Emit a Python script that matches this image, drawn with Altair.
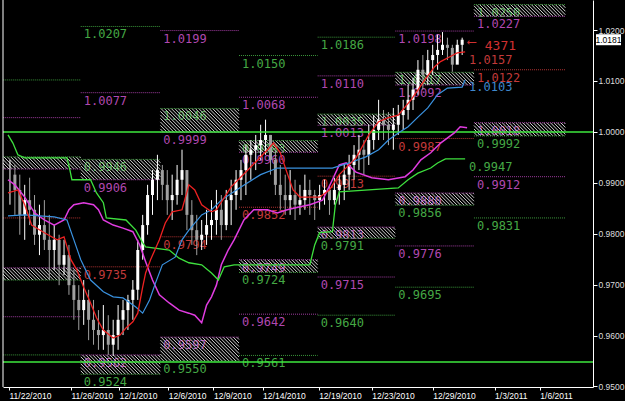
import altair as alt
import pandas as pd

# ---------------- data ----------------
# price bars (bar index 0..92)
bar_high = [0.9945,0.9935,0.9916,0.9896,0.9910,0.9876,0.9857,0.9866,0.9837,0.9817,
            0.9798,0.9788,0.9778,0.9729,0.9699,0.9709,0.9690,0.9670,0.9650,0.9660,
            0.9640,0.9631,0.9660,0.9670,0.9680,0.9709,0.9788,0.9837,0.9896,0.9925,
            0.9955,0.9935,0.9925,0.9916,0.9935,0.9965,0.9925,0.9866,0.9837,0.9827,
            0.9847,0.9866,0.9886,0.9876,0.9886,0.9906,0.9925,0.9945,0.9974,0.9984,
            0.9994,1.0014,1.0024,0.9994,0.9965,0.9935,0.9916,0.9925,0.9906,0.9896,
            0.9916,0.9906,0.9886,0.9896,0.9906,0.9896,0.9910,0.9916,0.9935,0.9955,
            0.9974,0.9994,0.9984,1.0014,1.0033,1.0063,1.0043,1.0039,1.0047,1.0053,
            1.0063,1.0092,1.0106,1.0141,1.0151,1.0161,1.0171,1.0191,1.0196,1.0185,
            1.0171,1.0181,1.0185]
bar_low = [0.9857,0.9837,0.9798,0.9788,0.9817,0.9778,0.9758,0.9768,0.9709,0.9729,
           0.9699,0.9719,0.9680,0.9631,0.9611,0.9621,0.9591,0.9582,0.9572,0.9572,
           0.9562,0.9560,0.9572,0.9601,0.9611,0.9631,0.9670,0.9749,0.9798,0.9837,
           0.9866,0.9866,0.9837,0.9827,0.9857,0.9876,0.9807,0.9778,0.9758,0.9768,
           0.9778,0.9788,0.9798,0.9788,0.9807,0.9817,0.9847,0.9866,0.9876,0.9906,
           0.9925,0.9945,0.9955,0.9916,0.9876,0.9847,0.9837,0.9837,0.9827,0.9837,
           0.9847,0.9837,0.9827,0.9847,0.9857,0.9837,0.9857,0.9857,0.9866,0.9886,
           0.9906,0.9925,0.9916,0.9935,0.9965,0.9984,0.9984,0.9974,0.9965,0.9994,
           1.0004,1.0024,1.0043,1.0073,1.0083,1.0092,1.0112,1.0122,1.0151,1.0141,
           1.0118,1.0141,1.0151]
bar_close = [0.9916,0.9886,0.9837,0.9866,0.9847,0.9798,0.9817,0.9788,0.9768,0.9788,
             0.9739,0.9758,0.9699,0.9670,0.9650,0.9670,0.9631,0.9611,0.9601,0.9611,
             0.9582,0.9601,0.9631,0.9650,0.9670,0.9690,0.9768,0.9817,0.9876,0.9906,
             0.9925,0.9896,0.9866,0.9876,0.9906,0.9925,0.9837,0.9807,0.9788,0.9798,
             0.9817,0.9827,0.9847,0.9817,0.9866,0.9876,0.9906,0.9925,0.9955,0.9965,
             0.9974,0.9984,0.9994,0.9945,0.9896,0.9876,0.9866,0.9876,0.9857,0.9866,
             0.9886,0.9876,0.9866,0.9876,0.9886,0.9866,0.9886,0.9896,0.9916,0.9935,
             0.9955,0.9965,0.9955,0.9984,1.0004,1.0024,1.0014,1.0004,1.0014,1.0033,
             1.0043,1.0063,1.0083,1.0122,1.0112,1.0141,1.0151,1.0161,1.0171,1.0165,
             1.0132,1.0171,1.0181]

red_x = [-0.4,1.6,3,4.4,7,9.6,11,12.4,13.6,15,16.4,17.6,19,21,22.4,23.6,25,26,27,27.6,
         28.6,30.4,31.6,33,35,36.4,37.6,39,41,42,45,49,52.4,53.6,55,56.4,57.6,59,63,65,
         67,70.4,73,75,77,79,81.6,84.4,86.4,87.6,89.4,91,92.6]
red_y = [0.9880,0.9886,0.9857,0.9817,0.9802,0.9788,0.9794,0.9749,0.9729,0.9695,
         0.9664,0.9635,0.9611,0.9595,0.9601,0.9615,0.9627,0.9644,0.9695,0.9723,
         0.9749,0.9788,0.9821,0.9843,0.9847,0.9896,0.9886,0.9857,0.9843,0.9847,
         0.9892,0.9931,0.9965,0.9978,0.9959,0.9919,0.9886,0.9872,0.9872,0.9886,
         0.9916,0.9949,0.9994,1.0020,1.0028,1.0033,1.0063,1.0102,1.0128,1.0138,
         1.0147,1.0155,1.0157]

blue_x = [-0.4,3,9,11.6,13,14.4,16.4,19,21,23,25.6,27,28.4,29.6,31,33.6,35,36.4,39,41,
          43,47,51,54.4,65.6,69,72.4,75,77,79,81,83,85,87,89,92,92.6]
blue_y = [0.9835,0.9837,0.9833,0.9827,0.9788,0.9749,0.9709,0.9686,0.9676,0.9674,
          0.9656,0.9644,0.9670,0.9703,0.9739,0.9754,0.9788,0.9807,0.9837,0.9847,
          0.9866,0.9892,0.9916,0.9929,0.9929,0.9939,0.9951,0.9965,0.9984,0.9998,
          1.0010,1.0029,1.0047,1.0073,1.0086,1.0088,1.0102]

mag_x = [-0.4,1,3,5,7,9,11,12,13,15,17,18,19,21,23,25,26.4,27.6,29,30.4,
         32.4,34.4,36.4,37.6,39,40,41,42,43,44.4,45.6,47.6,49.6,52.4,54.4,56.4,59,61,63.6,65.6,
         67,68.4,70.4,73.6,77,80.4,82,83.6,85.6,87.6,90.4,91.6,93]
mag_y = [0.9906,0.9896,0.9872,0.9841,0.9827,0.9817,0.9827,0.9847,0.9857,0.9861,
         0.9857,0.9847,0.9827,0.9817,0.9811,0.9804,0.9778,0.9745,0.9709,0.9680,
         0.9664,0.9650,0.9644,0.9640,0.9625,0.9660,0.9676,0.9699,0.9739,0.9768,
         0.9788,0.9827,0.9847,0.9847,0.9841,0.9847,0.9853,0.9857,0.9866,0.9906,
         0.9935,0.9939,0.9921,0.9910,0.9906,0.9912,0.9925,0.9945,0.9959,0.9978,
         0.9998,1.0010,1.0008]

grn_x = [-0.4,0.6,1.6,3,11.6,12.2,12.6,16.4,17.6,19,19.6,23.6,25.6,27,27.6,32.4,34.4,36.4,39,41,
         42.4,43.6,45.6,61,62,63,65.6,66.2,67,79,81,83,85.6,87,88.6,92.6]
grn_y = [0.9994,0.9978,0.9955,0.9949,0.9949,0.9925,0.9906,0.9906,0.9880,0.9861,
         0.9831,0.9827,0.9807,0.9782,0.9774,0.9768,0.9752,0.9743,0.9739,0.9723,
         0.9709,0.9735,0.9739,0.9739,0.9778,0.9802,0.9804,0.9857,0.9882,0.9890,
         0.9906,0.9919,0.9929,0.9939,0.9947,0.9947]

date_ticks = [-0.2, 12.4, 22.2, 32.2, 41.4, 51.4, 62.8, 73.6, 86.0, 98.6, 107.8]
date_labels = ['11/22/2010', '11/26/2010', '12/1/2010', '12/6/2010', '12/9/2010',
               '12/14/2010', '12/19/2010', '12/23/2010', '12/29/2010', '1/3/2011', '1/6/2011']
price_ticks = [0.95, 0.96, 0.97, 0.98, 0.99, 1.00, 1.01, 1.02]

# weekly level columns
col_start = [-3.0, 14.4, 30.6, 46.6, 62.6, 78.4, 94.4]
col_end = [14.4, 30.6, 46.6, 62.6, 78.4, 94.4, 113.0]

level_col = [0,0,0,0,0,0,0,0,0,
             1,1,1,1,1,1,1,
             2,2,2,2,2,2,
             3,3,3,3,3,3,3,3,3,
             4,4,4,4,4,4,4,4,4,
             5,5,5,5,5,5,5,5,
             6,6,6,6,6,6,6]
level_val = [1.0102,1.0028,0.9951,0.9927,0.9831,0.9733,0.9709,0.9637,0.9562,
             1.0207,1.0077,0.9946,0.9906,0.9735,0.9562,0.9524,
             1.0199,1.0046,0.9999,0.9794,0.9597,0.9550,
             1.0150,1.0068,0.9983,0.9960,0.9852,0.9749,0.9724,0.9642,0.9561,
             1.0186,1.0110,1.0035,1.0013,0.9913,0.9813,0.9791,0.9715,0.9640,
             1.0198,1.0117,1.0092,0.9987,0.9880,0.9856,0.9776,0.9695,
             1.0250,1.0227,1.0122,1.0018,0.9992,0.9912,0.9831]
level_kind = ['g','m','g','m','r','m','g','m','g',
              'g','m','g','m','r','m','g',
              'm','g','m','r','m','g',
              'g','m','g','m','r','m','g','m','g',
              'g','m','g','m','r','m','g','m','g',
              'm','g','m','r','m','g','m','g',
              'g','m','r','m','g','m','g']

zone_col = [0, 0, 1, 1, 2, 2, 3, 3, 4, 4, 5, 5, 6, 6]
zone_top = [0.9951,0.9733,0.9946,0.9562,1.0046,0.9597,0.9983,0.9749,1.0035,0.9813,1.0117,0.9880,1.0250,1.0018]
zone_bot = [0.9927,0.9709,0.9906,0.9524,0.9999,0.9550,0.9960,0.9724,1.0013,0.9791,1.0092,0.9856,1.0227,0.9992]

solid_levels = [1.0000, 0.9548]

end_x = [93.4, 93.4, 93.4]
end_val = [1.0157, 1.0103, 0.9947]
end_kind = ['r', 'b', 'g']

ann_x = [93.2, 96.6]
ann_y = [1.0177, 1.0169]
ann_text = ['\u27f5', '4371']

# ---------------- chart ----------------
W, H = 590, 387
XD = [-0.4, 117.6]
YD = [0.9499, 1.0259]
PX_X = W / (XD[1] - XD[0])
PX_Y = H / (YD[1] - YD[0])

XS = alt.Scale(domain=XD, nice=False, zero=False)
YS = alt.Scale(domain=YD, nice=False, zero=False)

lab_expr = ("[" + ",".join("'%s'" % l for l in date_labels) + "][indexof(["
            + ",".join(str(t) for t in date_ticks) + "], datum.value)]")
x_axis = alt.Axis(values=date_ticks, labelExpr=lab_expr, orient='bottom', domainColor='white',
                  tickColor='white', tickSize=3, labelColor='white', labelFontSize=8.5,
                  labelFont='Liberation Sans', labelAlign='left', labelPadding=1, grid=False,
                  title=None, labelOverlap=False, labelFlush=False)
y_axis = alt.Axis(values=price_ticks, format='.4f', orient='right', domainColor='white',
                  tickColor='white', tickSize=4, labelColor='#dddddd', labelFontSize=8.5,
                  labelFont='Liberation Sans', labelPadding=1, grid=False, title=None)


def X(f):
    return alt.X(f, type='quantitative', scale=XS, axis=x_axis)


def Y(f):
    return alt.Y(f, type='quantitative', scale=YS, axis=y_axis)


line_cols = {'g': '#3a963a', 'm': '#a03ca0', 'r': '#b03232', 'b': '#3a7fc0'}
text_cols = {'g': '#45a845', 'm': '#b048b0', 'r': '#c23a3a', 'b': '#3f88cc'}

levels = pd.DataFrame(dict(col=level_col, v=level_val, kind=level_kind))
levels['xs'] = [col_start[c] for c in levels['col']]
levels['xe'] = [col_end[c] for c in levels['col']]
levels['txt'] = [f"{v:.4f}" for v in levels['v']]
levels['lc'] = [line_cols[k] for k in levels['kind']]
levels['tc'] = [text_cols[k] for k in levels['kind']]
labelled = levels[levels['col'] > 0]

# hatch stripes derived from zones
hrows = []
for c, top, bot in zip(zone_col, zone_top, zone_bot):
    xl, xr = col_start[c], col_end[c]
    hu = (top - bot) * PX_Y / PX_X
    step = 3.5 / PX_X
    s = xl - hu
    while s < xr:
        t0 = max(0.0, (xl - s) / hu)
        t1 = min(1.0, (xr - s) / hu)
        if t1 > t0:
            hrows.append(dict(x=s + t0 * hu, x2=s + t1 * hu,
                              y=top - t0 * (top - bot), y2=top - t1 * (top - bot)))
        s += step
hatch = pd.DataFrame(hrows)

bars = pd.DataFrame(dict(i=list(range(len(bar_close))), hi=bar_high, lo=bar_low, c=bar_close))
bars['o'] = [bar_close[0]] + bar_close[:-1]
bars['fc'] = ['#ffffff' if c >= o else '#a0a0a0' for c, o in zip(bars['c'], bars['o'])]

lvl_text = alt.Chart(labelled).mark_text(align='left', baseline='top', dx=3, dy=3,
                                         font='DejaVu Sans Mono', fontSize=12).encode(
    x=X('xs'), y=Y('v'), text='txt:N', color=alt.Color('tc:N', scale=None))

hatch_l = alt.Chart(hatch).mark_rule(color='#cfcfcf', strokeWidth=1, clip=True).encode(
    x=X('x'), x2='x2', y=Y('y'), y2='y2')

lvl_lines = alt.Chart(levels).mark_rule(strokeWidth=1, strokeDash=[1, 1], clip=True).encode(
    x=X('xs'), x2='xe', y=Y('v'), color=alt.Color('lc:N', scale=None))

solid = alt.Chart(pd.DataFrame(dict(v=solid_levels))).mark_rule(
    color='#3ee83e', strokeWidth=1.5).encode(y=Y('v'))

wicks = alt.Chart(bars).mark_rule(strokeWidth=1).encode(
    x=X('i'), y=Y('lo'), y2='hi', color=alt.Color('fc:N', scale=None))
bodies = alt.Chart(bars).mark_bar(width=3).encode(
    x=X('i'), y=Y('o'), y2='c', color=alt.Color('fc:N', scale=None))


def line(xs, ys, color, w):
    return alt.Chart(pd.DataFrame(dict(x=xs, y=ys))).mark_line(
        color=color, strokeWidth=w, clip=True).encode(x=X('x'), y=Y('y'), order='x:Q')


red_l = line(red_x, red_y, '#ee2222', 1.3)
blue_l = line(blue_x, blue_y, '#3a92e0', 1.2)
mag_l = line(mag_x, mag_y, '#e03ce0', 1.5)
grn_l = line(grn_x, grn_y, '#3ee03e', 1.3)

ends = pd.DataFrame(dict(x=end_x, v=end_val, kind=end_kind))
ends['txt'] = [f"{v:.4f}" for v in ends['v']]
ends['tc'] = [text_cols[k] for k in ends['kind']]
end_text = alt.Chart(ends).mark_text(align='left', baseline='top', dy=3,
                                     font='DejaVu Sans Mono', fontSize=12).encode(
    x=X('x'), y=Y('v'), text='txt:N', color=alt.Color('tc:N', scale=None))

ann = alt.Chart(pd.DataFrame(dict(x=ann_x, y=ann_y, t=ann_text))).mark_text(
    align='left', baseline='middle', font='DejaVu Sans Mono', fontSize=13, color='#d03030').encode(
    x=X('x'), y=Y('y'), text='t:N')

border = alt.Chart(pd.DataFrame(dict(a=[0]))).mark_rule(color='white', strokeWidth=1).encode(
    x=alt.value(0), y=alt.value(0), y2=alt.value(H))

half_box = 5.5 / PX_Y
cur = alt.Chart(pd.DataFrame(dict(p=[bar_close[-1]]))).transform_calculate(
    t='datum.p + %f' % half_box, b='datum.p - %f' % half_box)
cur_box = cur.mark_rect(color='white').encode(
    x=alt.value(W + 3), x2=alt.value(W + 28), y=Y('t'), y2='b')
cur_txt = cur.transform_calculate(s="format(datum.p, '.4f')").mark_text(
    align='center', baseline='middle', font='Liberation Sans', fontSize=8.5, color='black').encode(
    x=alt.value(W + 15.5), y=Y('p'), text='s:N')

chart = alt.layer(
    lvl_text, hatch_l, lvl_lines, wicks, bodies, solid,
    mag_l, grn_l, blue_l, red_l, end_text, ann, border, cur_box, cur_txt
).properties(
    width=W, height=H,
    autosize=alt.AutoSizeParams(type='none'),
    padding={'left': 3, 'top': 0, 'right': 32, 'bottom': 14},
    background='black'
).configure_view(strokeWidth=0)

chart.save("out.html", embed_options={"renderer": "svg", "actions": False})
